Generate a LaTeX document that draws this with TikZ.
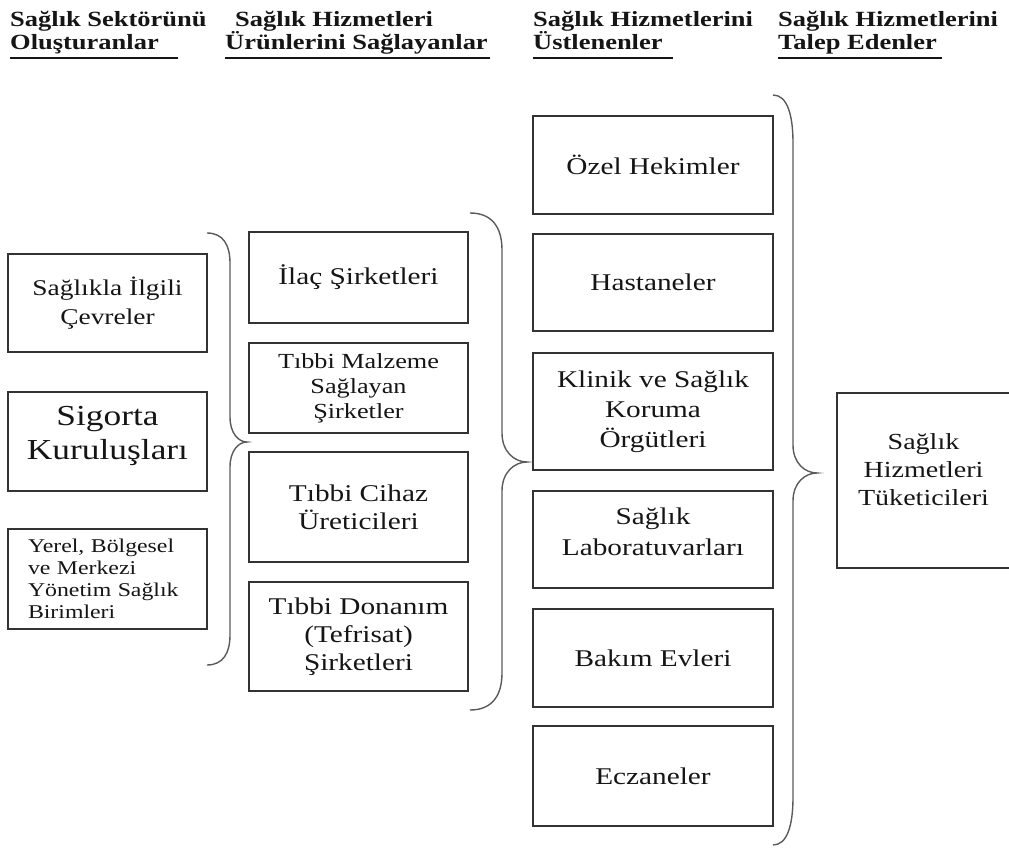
\documentclass[tikz,border=0pt]{standalone}
\usepackage{fontspec}
\setmainfont{Liberation Serif}[FakeStretch=1.22]
\definecolor{ink}{HTML}{151515}
\definecolor{boxline}{HTML}{333333}
\definecolor{bracecol}{HTML}{5A5A5A}
% #1 x end, #2 y top, #3 y bottom, #4 x of stem, #5 x of tip, #6 y of tip, #7 end curve length, #8 tip curve length
\newcommand{\mybrace}[8]{%
  \draw[bracestyle] (#1,#2) .. controls ({#1+0.7*(#4-#1)},#2) and (#4,{#2+0.4*#7}) .. (#4,{#2+#7})
    -- (#4,{#6-#8}) .. controls (#4,{#6-0.35*#8}) and ({#5-0.5*(#5-#4)},#6) .. (#5,#6)
    .. controls ({#5-0.5*(#5-#4)},#6) and (#4,{#6+0.35*#8}) .. (#4,{#6+#8})
    -- (#4,{#3-#7}) .. controls (#4,{#3-0.4*#7}) and ({#1+0.7*(#4-#1)},#3) .. (#1,#3);}
\begin{document}
\begin{tikzpicture}[x=1pt,y=-1pt,
  box/.style={draw=boxline, line width=1.3pt, inner sep=0pt, align=center, text=ink,
    font=\fontsize{24}{29}\selectfont},
  hdr/.style={anchor=base west, inner sep=0pt, text=ink, font=\bfseries\fontsize{21.7}{26}\selectfont},
  uline/.style={draw=ink, line width=2pt},
  bracestyle/.style={draw=bracecol, line width=1.4pt}]
\useasboundingbox (0,0) rectangle (1009,848);
\clip (0,0) rectangle (1009,848);

% headers
\node[hdr] (h1a) at (10,27) {Sağlık Sektörünü};
\node[hdr] (h1b) at (10,50) {Oluşturanlar};
\node[hdr] (h2a) at (235,27) {Sağlık Hizmetleri};
\node[hdr] (h2b) at (225,50) {Ürünlerini Sağlayanlar};
\node[hdr] (h3a) at (533,27) {Sağlık Hizmetlerini};
\node[hdr] (h3b) at (533,50) {Üstlenenler};
\node[hdr] (h4a) at (778,27) {Sağlık Hizmetlerini};
\node[hdr] (h4b) at (778,50) {Talep Edenler};
\draw[uline] ([yshift=-8pt]h1b.base west) -- ++(168,0);
\draw[uline] ([yshift=-8pt]h2b.base west) -- ++(265,0);
\draw[uline] ([yshift=-8pt]h3b.base west) -- ++(140,0);
\draw[uline] ([yshift=-8pt]h4b.base west) -- ++(164,0);

% column 1
\node[box, minimum width=199, minimum height=98, font=\fontsize{22.5}{29}\selectfont] (a1) at (107.5,303) {Sağlıkla İlgili\\Çevreler};
\node[box, minimum width=199, minimum height=99, font=\fontsize{29}{34}\selectfont, text depth=18pt] (a2) at (107.5,441.5) {Sigorta\\Kuruluşları};
\node[box, text width=159, inner xsep=20, minimum height=100, align=left, font=\fontsize{19.5}{22}\selectfont] (a3) at (107.5,579) {Yerel, Bölgesel\\ve Merkezi\\Yönetim Sağlık\\Birimleri};

% column 2
\node[box, minimum width=219, minimum height=91] (b1) at (358.5,277.5) {İlaç Şirketleri};
\node[box, minimum width=219, minimum height=90, font=\fontsize{21.5}{25}\selectfont] (b2) at (358.5,388) {Tıbbi Malzeme\\Sağlayan\\Şirketler};
\node[box, minimum width=219, minimum height=110, font=\fontsize{24}{28}\selectfont] (b3) at (358.5,507) {Tıbbi Cihaz\\Üreticileri};
\node[box, minimum width=219, minimum height=109, font=\fontsize{24}{28}\selectfont] (b4) at (358.5,636.5) {Tıbbi Donanım\\(Tefrisat)\\Şirketleri};

% column 3
\node[box, minimum width=240, minimum height=98] (c1) at (653,165) {Özel Hekimler};
\node[box, minimum width=240, minimum height=97] (c2) at (653,282.5) {Hastaneler};
\node[box, minimum width=240, minimum height=117, font=\fontsize{24}{30}\selectfont] (c3) at (653,411.5) {Klinik ve Sağlık\\Koruma\\Örgütleri};
\node[box, minimum width=240, minimum height=97, font=\fontsize{24}{31}\selectfont, text depth=16pt] (c4) at (653,539.5) {Sağlık\\Laboratuvarları};
\node[box, minimum width=240, minimum height=98] (c5) at (653,658) {Bakım Evleri};
\node[box, minimum width=240, minimum height=100] (c6) at (653,776) {Eczaneler};

% column 4
\node[box, minimum width=173, minimum height=175, font=\fontsize{23}{28}\selectfont, text depth=22pt] (d1) at (923.5,480.5) {Sağlık\\Hizmetleri\\Tüketicileri};

% braces
\mybrace{207}{233}{665}{230}{247}{442}{30}{25}
\mybrace{470}{213}{710}{502}{527}{462}{37}{29}
\mybrace{773}{95}{845}{793}{817}{473}{48}{28}
\end{tikzpicture}
\end{document}
